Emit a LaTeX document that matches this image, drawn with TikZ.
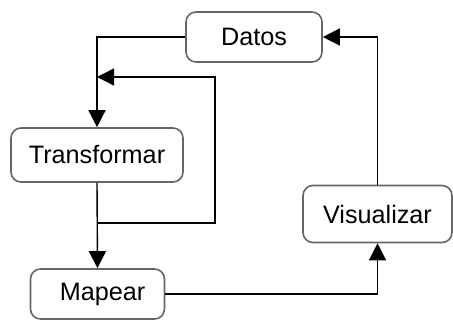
\documentclass[tikz,border=0pt]{standalone}
\usepackage{fontspec}
\setmainfont{Liberation Sans}
\usetikzlibrary{arrows.meta}

\begin{document}
\begin{tikzpicture}[
        x=0.5pt,
        y=-0.5pt,
        every node/.style={font=\fontsize{12.6}{15}\selectfont},
        stepbox/.style={
            draw=black!60,
            line width=0.8pt,
            rounded corners=5pt,
            inner sep=0pt
        },
        flow/.style={
            line width=0.7pt,
            -{Triangle[length=8.5pt,width=8.5pt]}
        }
    ]
        \useasboundingbox (0,0) rectangle (453,320);

        % The four stages of the cycle
        \node[stepbox, minimum width=68pt, minimum height=25pt]
            (datos) at (254,37) {Datos};
        \node[stepbox, minimum width=86pt, minimum height=27pt]
            (transformar) at (97,155) {Transformar};
        \node[stepbox, minimum width=67pt, minimum height=25pt]
            (mapear) at (97.5,294) {\hspace{5pt}Mapear};
        \node[stepbox, minimum width=74.5pt, minimum height=28.5pt]
            (visualizar) at (377.5,214) {Visualizar};

        % Connectors
        \draw[flow] (datos.west) -| (transformar.north);
        \draw[flow] (transformar.south) -- (mapear.north);
        \draw[flow] (mapear.east) -| (visualizar.south);
        \draw[flow] (visualizar.north) |- (datos.east);

        % Loop back from Mapear's input to Transformar's input
        \coordinate (loopstart) at (97,223);
        \coordinate (loopend) at (97,77);
        \draw[flow] (loopstart) -- ++(118,0) |- (loopend);
    \end{tikzpicture}
\end{document}
